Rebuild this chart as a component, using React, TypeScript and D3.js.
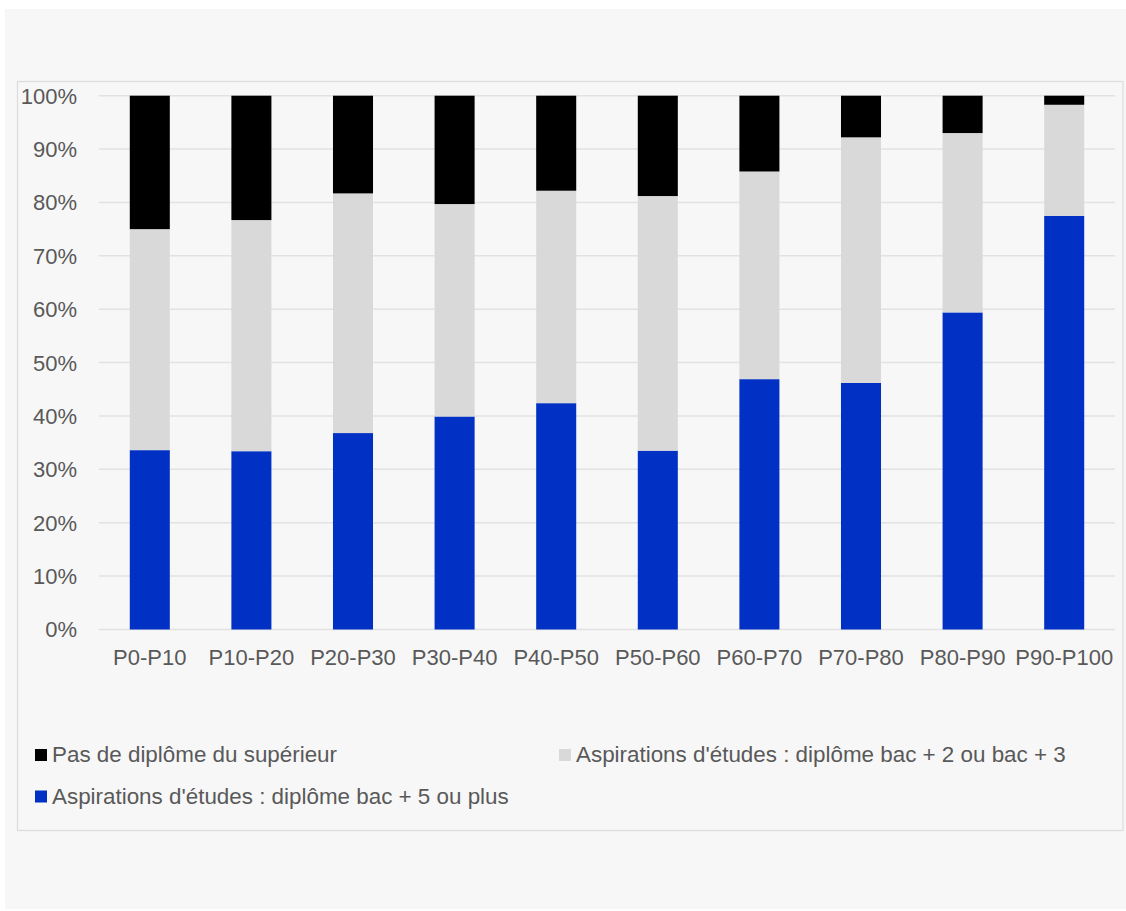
import React from "react";
import * as d3 from "d3";

const categories = ["P0-P10", "P10-P20", "P20-P30", "P30-P40", "P40-P50", "P50-P60", "P60-P70", "P70-P80", "P80-P90", "P90-P100"];
const bac5 = [33.6, 33.4, 36.8, 39.9, 42.4, 33.5, 46.9, 46.2, 59.4, 77.5];
const bac23 = [41.4, 43.3, 44.9, 39.8, 39.8, 47.7, 38.9, 46.0, 33.6, 20.8];
const pasDiplome = [25.0, 23.3, 18.3, 20.3, 17.8, 18.8, 14.2, 7.8, 7.0, 1.7];
const yTicks = [0, 10, 20, 30, 40, 50, 60, 70, 80, 90, 100];
const seriesNames = [
  "Pas de diplôme du supérieur",
  "Aspirations d'études : diplôme bac + 2 ou bac + 3",
  "Aspirations d'études : diplôme bac + 5 ou plus",
];

const W = 1126;
const H = 911;
const FONT = "'Liberation Sans', Arial, Helvetica, sans-serif";
const TEXT = "#595959";
const COLORS = { bac5: "#0031c4", bac23: "#d9d9d9", pas: "#000000" };

export default function App() {
  const x = d3.scaleBand<string>().domain(categories).range([99, 1115]).paddingInner(0.606).paddingOuter(0.303);
  const y = d3.scaleLinear().domain([0, 100]).range([629.5, 95.7]);

  const rows = categories.map((c, i) => ({ cat: c, bac5: bac5[i], bac23: bac23[i], pas: pasDiplome[i] }));
  const stack = d3.stack<any>().keys(["bac5", "bac23", "pas"]);
  const stacked = stack(rows);

  return (
    <svg width={W} height={H} style={{ position: "absolute", left: 0, top: 0, display: "block" }} fontFamily={FONT}>
      <rect x={0} y={0} width={W} height={H} fill="#ffffff" />
      <rect x={5} y={9} width={W - 5} height={900} fill="#f7f7f7" />
      <rect x={17.5} y={81.5} width={1105.5} height={749} fill="#f7f7f7" stroke="#dcdcdc" strokeWidth={1.2} />
      {yTicks.map((t) => (
        <g key={t}>
          <line x1={99} x2={1115} y1={y(t)} y2={y(t)} stroke="#e2e2e2" strokeWidth={1.5} />
          <text x={77} y={y(t)} dy="0.36em" textAnchor="end" fontSize={22} fill={TEXT}>
            {t}%
          </text>
        </g>
      ))}
      {stacked.map((s) => (
        <g key={s.key} fill={(COLORS as any)[s.key]}>
          {s.map((d: any, i: number) => {
            const top = y(Math.min(100, d[1]));
            const bottom = y(d[0]);
            return (
              <rect
                key={i}
                x={x(categories[i])}
                width={x.bandwidth()}
                y={top}
                height={Math.max(0, bottom - top)}
              />
            );
          })}
        </g>
      ))}
      {categories.map((c) => (
        <text key={c} x={(x(c) as number) + x.bandwidth() / 2} y={665} textAnchor="middle" fontSize={22} fill={TEXT}>
          {c}
        </text>
      ))}
      <g fontSize={22.4} fill={TEXT}>
        <rect x={35} y={749} width={12} height={12} fill={COLORS.pas} />
        <text x={52} y={762}>{seriesNames[0]}</text>
        <rect x={559} y={749} width={12} height={12} fill={COLORS.bac23} />
        <text x={576} y={762}>{seriesNames[1]}</text>
        <rect x={35} y={790.5} width={12} height={12} fill={COLORS.bac5} />
        <text x={52} y={803.5}>{seriesNames[2]}</text>
      </g>
    </svg>
  );
}
